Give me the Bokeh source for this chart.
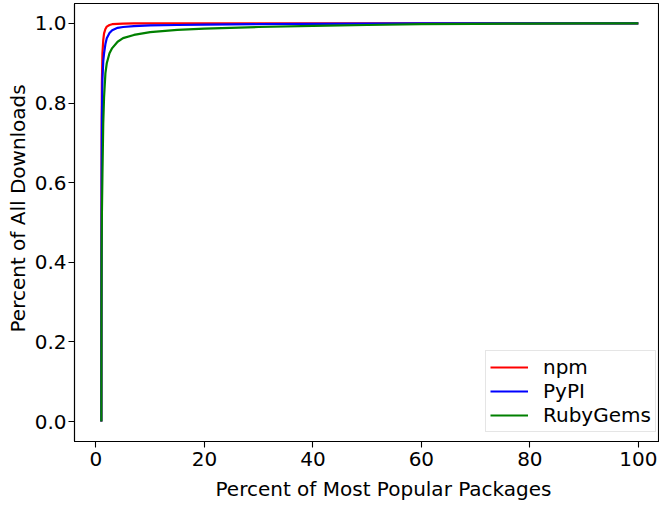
from bokeh.plotting import figure
from bokeh.models import Range1d, FixedTicker, PrintfTickFormatter, Legend, LegendItem, Title
from bokeh.embed import file_html
from bokeh.resources import INLINE

# Percent of most popular packages (x) and cumulative share of downloads (y)
pct_packages = [1.0, 1.02, 1.05, 1.1, 1.2, 1.35, 1.5, 1.75, 2.0, 2.5, 3.0, 4.0, 5.0,
                7.0, 10, 15, 20, 30, 40, 50, 60, 70, 80, 90, 100]
npm = [0.0, 0.45, 0.70, 0.85, 0.925, 0.958, 0.975, 0.986, 0.992, 0.996, 0.998, 0.999, 0.9995,
       1.0, 1.0, 1.0, 1.0, 1.0, 1.0, 1.0, 1.0, 1.0, 1.0, 1.0, 1.0]
pypi = [0.0, 0.35, 0.60, 0.76, 0.86, 0.905, 0.925, 0.948, 0.963, 0.976, 0.983, 0.989, 0.991,
        0.993, 0.995, 0.996, 0.997, 0.998, 0.999, 0.9995, 1.0, 1.0, 1.0, 1.0, 1.0]
rubygems = [0.0, 0.25, 0.42, 0.52, 0.62, 0.75, 0.815, 0.875, 0.90, 0.925, 0.938, 0.954, 0.963,
            0.971, 0.978, 0.984, 0.987, 0.991, 0.994, 0.996, 0.998, 0.999, 0.9995, 1.0, 1.0]

series_names = ["npm", "PyPI", "RubyGems"]
series_colors = ["#ff0000", "#0000ff", "#008000"]
x_ticks = [0, 20, 40, 60, 80, 100]
y_ticks = [0.0, 0.2, 0.4, 0.6, 0.8, 1.0]
x_title = "Percent of Most Popular Packages"
y_title = "Percent of All Downloads"

FONT = "DejaVu Sans"
FS = "20px"

p = figure(width=659, height=507, output_backend="svg", toolbar_location=None,
           x_range=Range1d(-3.95, 103.9), y_range=Range1d(-0.05, 1.05),
           min_border_left=74, min_border_right=0, min_border_top=3, min_border_bottom=65)

p.grid.visible = False
p.outline_line_color = "black"
p.outline_line_width = 1.1
p.background_fill_color = "white"
p.border_fill_color = "white"

renderers = []
for ys, c in zip([npm, pypi, rubygems], series_colors):
    r = p.line(pct_packages, ys, line_color=c, line_width=2.2)
    renderers.append(r)

for ax in (p.xaxis[0], p.yaxis[0]):
    ax.major_tick_out = 6
    ax.major_tick_in = 0
    ax.minor_tick_out = 0
    ax.minor_tick_in = 0
    ax.axis_line_color = "black"
    ax.axis_line_width = 1.1
    ax.major_tick_line_width = 1.1
    ax.major_label_text_font = FONT
    ax.major_label_text_font_size = FS
    ax.major_label_text_color = "black"

p.xaxis.ticker = FixedTicker(ticks=x_ticks)
p.yaxis.ticker = FixedTicker(ticks=y_ticks)
p.yaxis.formatter = PrintfTickFormatter(format="%.1f")
p.xaxis.major_label_standoff = 4
p.yaxis.major_label_standoff = 2

# axis titles, placed slightly off-centre as in the reference
p.add_layout(Title(text=x_title, align="left", offset=141, standoff=13,
                   vertical_align="bottom", text_font=FONT, text_font_size=FS,
                   text_font_style="normal", text_color="black"), "below")
p.add_layout(Title(text=y_title, align="left", offset=109, standoff=3,
                   vertical_align="bottom", text_font=FONT, text_font_size=FS,
                   text_font_style="normal", text_color="black"), "left")

legend = Legend(items=[LegendItem(label=n, renderers=[r]) for n, r in zip(series_names, renderers)],
                location=(411, 9), margin=0, padding=4, spacing=0,
                glyph_width=38, glyph_height=22, label_height=22, label_standoff=15,
                label_text_font=FONT, label_text_font_size=FS, label_text_color="black",
                border_line_color="#cccccc", border_line_width=1,
                background_fill_color="white", background_fill_alpha=0.8)
p.add_layout(legend, "center")

open("out.html", "w").write(file_html(p, INLINE))
